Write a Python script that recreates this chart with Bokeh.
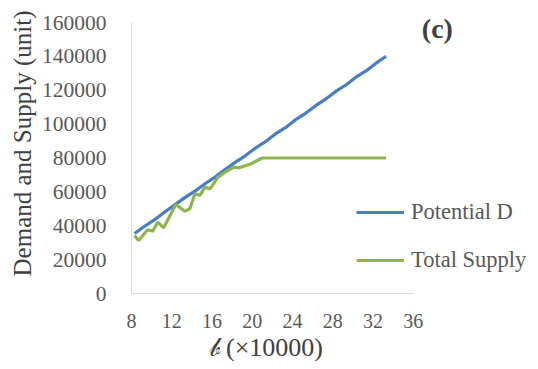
from bokeh.plotting import figure
from bokeh.models import FixedTicker, Legend, LegendItem, Label, Range1d, NumeralTickFormatter, Title
from bokeh.embed import file_html
from bokeh.resources import INLINE

# Data
demand_x = [8.3, 9.3, 10.3, 11.3, 12.3, 13.3, 14.3, 15.3, 16.3, 17.3, 18.3, 19.3, 20.3,
            21.3, 22.3, 23.3, 24.3, 25.3, 26.3, 27.3, 28.3, 29.3, 30.3, 31.3, 32.3, 33.3]
demand_y = [35400, 39700, 43600, 48100, 52300, 56600, 60400, 64800, 68700, 73200, 77400,
            81300, 85800, 89600, 94200, 97900, 102600, 106400, 110900, 114800, 119300,
            123100, 127700, 131400, 136000, 140100]

supply_x = [8.3, 8.7, 9.6, 10.1, 10.6, 11.2, 12.4, 13.3, 13.8, 14.3, 14.8, 15.3, 15.8,
            16.6, 17.3, 18.2, 18.7, 19.9, 21.0, 33.3]
supply_y = [34200, 31300, 37600, 36800, 42100, 38800, 52500, 48600, 50000, 58900, 57900,
            62800, 61800, 68700, 71600, 74600, 74200, 76600, 80000, 80000]

x_ticks = [8, 12, 16, 20, 24, 28, 32, 36]
y_ticks = [0, 20000, 40000, 60000, 80000, 100000, 120000, 140000, 160000]
series_names = ["Potential D", "Total Supply"]
colors = ["#4A7EC2", "#8DB74E"]
x_title = "\U0001D4B7 (\u00d710000)"
y_title = "Demand and Supply (unit)"
panel_tag = "(c)"

FONT = "Liberation Serif"

# frame extends to the right and top edges so legend and "(c)" are not clipped;
# axis lines themselves are bounded to the visible tick span
p = figure(width=538, height=369, output_backend="svg", toolbar_location=None,
           x_range=Range1d(8, 48.45), y_range=Range1d(0, 172990),
           min_border_left=131, min_border_right=0, min_border_top=0, min_border_bottom=76)
p.outline_line_color = None
p.grid.visible = False

r1 = p.line(demand_x, demand_y, line_color=colors[0], line_width=3.2)
r2 = p.line(supply_x, supply_y, line_color=colors[1], line_width=3.2)

for ax in (p.xaxis[0], p.yaxis[0]):
    ax.axis_line_color = "#D9D9D9"
    ax.axis_line_width = 1
    ax.major_tick_line_color = None
    ax.minor_tick_line_color = None
    ax.major_label_text_font = FONT
    ax.major_label_text_color = "#595959"

p.xaxis.ticker = FixedTicker(ticks=x_ticks)
p.yaxis.ticker = FixedTicker(ticks=y_ticks)
p.yaxis.formatter = NumeralTickFormatter(format="0")
p.xaxis.bounds = (8, 36)
p.yaxis.bounds = (0, 160000)
p.xaxis.major_label_text_font_size = "20px"
p.yaxis.major_label_text_font_size = "21.5px"
p.xaxis.major_label_standoff = 14
p.yaxis.major_label_standoff = 19

p.add_layout(Title(text=x_title, align="left", offset=77, standoff=0,
                   text_font=FONT, text_font_style="normal", text_font_size="26px",
                   text_color="#404040"), "below")
p.add_layout(Title(text=y_title, align="right", offset=10, standoff=6,
                   text_font=FONT, text_font_style="normal", text_font_size="25px",
                   text_color="#404040"), "left")

legend = Legend(items=[LegendItem(label=series_names[0], renderers=[r1]),
                       LegendItem(label=series_names[1], renderers=[r2])],
                location=(225, 20), orientation="vertical",
                border_line_color=None, background_fill_alpha=0,
                padding=0, margin=0, spacing=22,
                glyph_width=48, glyph_height=20, label_height=20, label_standoff=7,
                label_text_font=FONT, label_text_font_size="22.5px", label_text_color="#595959")
p.add_layout(legend, "center")

p.add_layout(Label(x=38.4, y=156400, text=panel_tag, text_font=FONT, text_font_style="bold",
                   text_font_size="28px", text_color="#404040",
                   text_baseline="middle", text_align="center"))

open("out.html", "w").write(file_html(p, INLINE))
